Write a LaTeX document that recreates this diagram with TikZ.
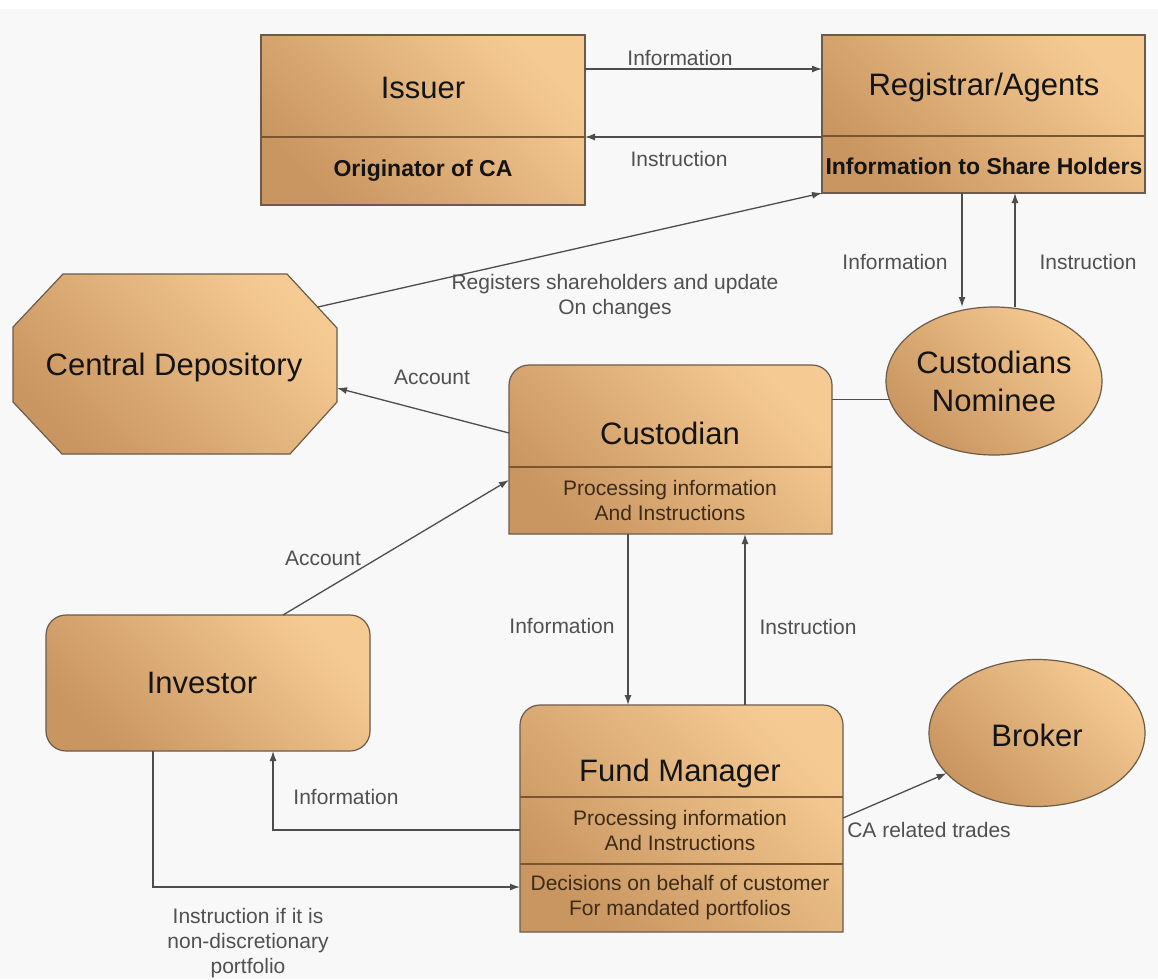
\documentclass[tikz,border=0pt]{standalone}
\usepackage{fontspec}
\setmainfont{Liberation Sans}
\usetikzlibrary{arrows.meta,calc,shapes.geometric}
\definecolor{boxlight}{HTML}{F6CB93}
\definecolor{boxdark}{HTML}{C99560}
\definecolor{boxedge}{HTML}{6B5B4B}
\definecolor{divcol}{HTML}{7B5430}
\definecolor{linecol}{HTML}{4D4D4D}
\definecolor{lblcol}{HTML}{505050}
\definecolor{titlecol}{HTML}{141414}
\definecolor{subcol}{HTML}{3D2B18}
\definecolor{bgcol}{HTML}{F8F8F8}
\tikzset{
 boxfill/.style={draw=boxedge, line width=1.2pt, top color=boxlight, bottom color=boxdark, shading angle=-45},
 sqbox/.style={boxfill, rectangle, inner sep=0pt, outer sep=0pt},
 rbox/.style={sqbox, rounded corners=20pt},
 ellbox/.style={boxfill, ellipse, inner sep=0pt, outer sep=0pt},
 ghost/.style={rectangle, inner sep=0pt, outer sep=0pt, draw=none},
 divline/.style={draw=divcol, line width=1.6pt},
 conn/.style={draw=linecol, line width=1.3pt},
 arr/.style={conn, -{Latex[length=10pt,width=7pt]}},
 ttl/.style={font=\fontsize{31}{38}\selectfont, text=titlecol, align=center, inner sep=0pt},
 subtxt/.style={font=\fontsize{21}{25}\selectfont, text=subcol, align=center, inner sep=0pt},
 subbold/.style={font=\fontsize{23}{27}\selectfont\bfseries, text=titlecol, inner sep=0pt},
 lbl/.style={font=\fontsize{21}{25}\selectfont, text=lblcol, align=center, inner sep=0pt},
}
\begin{document}
\begin{tikzpicture}[x=1pt,y=-1pt]
\useasboundingbox (0,0) rectangle (1158,979);
\fill[white] (0,0) rectangle (1158,9);
\fill[bgcol] (0,9) rectangle (1158,979);

% Issuer
\node[sqbox, minimum width=324pt, minimum height=170pt] (issuer) at (423,120) {};
\draw[divline] (issuer.west |- 0,137) -- (issuer.east |- 0,137);
\node[ttl] (issuerT) at (423,88) {Issuer};
\node[subbold] (issuerS) at (423,171) {Originator of CA};

% Registrar
\node[sqbox, minimum width=323pt, minimum height=158pt] (reg) at (983.5,114) {};
\draw[divline] (reg.west |- 0,136) -- (reg.east |- 0,136);
\node[ttl] (regT) at (984,87) {Registrar/Agents};
\node[subbold] (regS) at (984,166) {Information to Share Holders};

% Central Depository
\shade[boxfill] (63,274) -- (287,274) -- (337,328) -- (337,402) -- (290,454) -- (62,454) -- (13,402) -- (13,327) -- cycle;
\node[ghost, minimum width=324pt, minimum height=180pt] (cd) at (175,364) {};
\node[ttl] (cdT) at (174,367) {Central Depository};
\coordinate (cdr) at (318,307);

% Custodian
\shade[boxfill] (509,534) -- (509,385) arc[start angle=180,end angle=90,radius=20pt] -- (812,365) arc[start angle=90,end angle=0,radius=20pt] -- (832,534) -- cycle;
\node[ghost, minimum width=323pt, minimum height=169pt] (cust) at (670.5,449.5) {};
\draw[divline] (cust.west |- 0,467) -- (cust.east |- 0,467);
\node[ttl] (custT) at (670,433) {Custodian};
\node[subtxt] (custS) at (670,500) {Processing information\\And Instructions};

% Custodians Nominee
\node[ellbox, minimum width=216pt, minimum height=148pt] (nom) at (994,381) {};
\node[ttl] (nomT) at (994,381) {Custodians\\Nominee};

% Investor
\node[rbox, minimum width=324pt, minimum height=136pt] (inv) at (208,683) {};
\node[ttl] (invT) at (202,683) {Investor};

% Fund Manager
\shade[boxfill] (520,932) -- (520,725) arc[start angle=180,end angle=90,radius=20pt] -- (823,705) arc[start angle=90,end angle=0,radius=20pt] -- (843,932) -- cycle;
\node[ghost, minimum width=323pt, minimum height=227pt] (fm) at (681.5,818.5) {};
\draw[divline] (fm.west |- 0,797) -- (fm.east |- 0,797);
\draw[divline] (fm.west |- 0,864) -- (fm.east |- 0,864);
\node[ttl] (fmT) at (680,773) {Fund Manager};
\node[subtxt] (fmS1) at (680,830) {Processing information\\And Instructions};
\node[subtxt] (fmS2) at (680,898) {Decisions on behalf of customer\\For mandated portfolios};

% Broker
\node[ellbox, minimum width=216pt, minimum height=147pt] (broker) at (1037,733) {};
\node[ttl] (brT) at (1037,735) {Broker};

% Connectors
\draw[arr] (issuer.east |- 0,69) -- (reg.west |- 0,69);
\draw[arr] (reg.west |- 0,137) -- (issuer.east |- 0,137);
\draw[arr] (cdr) -- (reg.south west);
\draw[arr] (reg.south -| 962,0) -- (962,0 |- nom.north);
\draw[arr] (1015,0 |- nom.north) -- (reg.south -| 1015,0);
\draw[conn] (cust.east |- nom.190) -- (nom.190);
\draw[arr] (cust.west |- 0,433) -- (cd.east |- 0,388);
\draw[arr] (inv.north -| 283,0) -- (cust.west |- 0,480);
\draw[arr] (cust.south -| 628,0) -- (fm.north -| 628,0);
\draw[arr] (fm.north -| 745,0) -- (cust.south -| 745,0);
\draw[arr] (fm.west |- 0,830) -| (inv.south -| 273,0);
\draw[arr] (inv.south -| 153,0) |- (fm.west |- 0,887);
\draw[arr] (fm.east |- 0,818) -- (broker.204);

% Labels
\node[lbl] (lInfo1) at (680,58) {Information};
\node[lbl] (lInst1) at (679,159) {Instruction};
\node[lbl] (lReg) at (615,297) {Registers shareholders and update\\On changes};
\node[lbl] (lInfo2) at (895,262) {Information};
\node[lbl] (lInst2) at (1088,262) {Instruction};
\node[lbl] (lAcc1) at (432,377) {Account};
\node[lbl] (lAcc2) at (323,558) {Account};
\node[lbl] (lInfo3) at (562,626) {Information};
\node[lbl] (lInst3) at (808,627) {Instruction};
\node[lbl] (lInfo4) at (346,797) {Information};
\node[lbl] (lInstInv) at (248,943) {Instruction if it is\\non-discretionary\\portfolio};
\node[lbl] (lCA) at (929,830) {CA related trades};
\end{tikzpicture}
\end{document}
